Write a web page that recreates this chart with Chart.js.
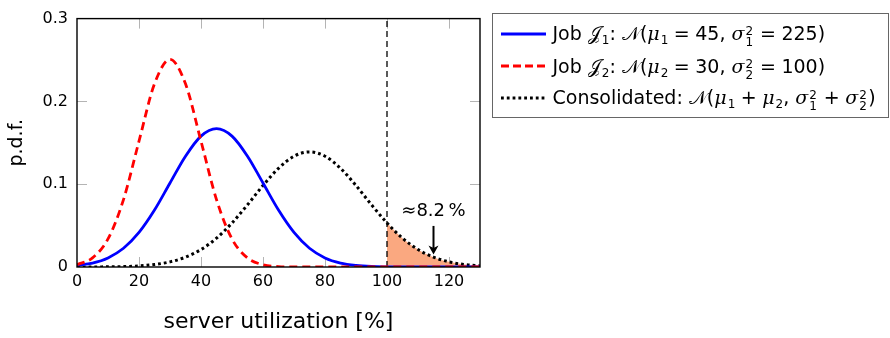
<!DOCTYPE html>
<html>
<head>
<meta charset="utf-8">
<script src="https://cdn.jsdelivr.net/npm/chart.js@4/dist/chart.umd.min.js"></script>
<style>
html,body{margin:0;padding:0;background:#fff;}
#wrap{position:relative;width:890px;height:338px;overflow:hidden;}
#c{position:absolute;left:0;top:0;}
#legend{position:absolute;left:492px;top:13px;width:397px;height:105px;box-sizing:border-box;border:1.5px solid #666;font-family:"DejaVu Sans",sans-serif;font-size:19px;color:#000;}
.row{position:absolute;left:7.5px;height:24px;display:flex;align-items:center;white-space:nowrap;}
.row svg{margin-right:7px;flex:none;}
.m{font-family:"DejaVu Serif",serif;font-style:italic;}
.cal{font-family:"DejaVu Serif","DejaVu Sans","Noto Sans",serif;}
.sb1{font-size:12px;position:relative;top:4px;margin-left:1px;}
.op{margin:0 5.5px;}
.ss{position:relative;display:inline-block;width:10px;height:0;}
.ss .sp,.ss .sb{position:absolute;left:1px;font-size:12px;line-height:12px;}
.ss .sp{top:-15px;}
.ss .sb{top:-4px;}
</style>
</head>
<body>
<div id="wrap">
<canvas id="c" width="890" height="338"></canvas>
<div id="legend">
  <div class="row" style="top:7.8px"><svg width="45" height="8"><line x1="0" y1="4" x2="45" y2="4" stroke="#0000ff" stroke-width="2.8"/></svg><span>Job <span class="cal">𝒥</span><span class="sb1">1</span>: <span class="cal">𝒩</span>(<span class="m">μ</span><span class="sb1">1</span><span class="op">=</span>45, <span class="m">σ</span><span class="ss"><span class="sp">2</span><span class="sb">1</span></span><span class="op">=</span>225)</span></div>
  <div class="row" style="top:40.2px"><svg width="45" height="8"><line x1="0" y1="4" x2="45" y2="4" stroke="#ff0000" stroke-width="2.8" stroke-dasharray="8 4"/></svg><span>Job <span class="cal">𝒥</span><span class="sb1">2</span>: <span class="cal">𝒩</span>(<span class="m">μ</span><span class="sb1">2</span><span class="op">=</span>30, <span class="m">σ</span><span class="ss"><span class="sp">2</span><span class="sb">2</span></span><span class="op">=</span>100)</span></div>
  <div class="row" style="top:71.8px"><svg width="45" height="8"><line x1="0" y1="4" x2="45" y2="4" stroke="#000" stroke-width="2.8" stroke-dasharray="2.8 3"/></svg><span>Consolidated: <span class="cal">𝒩</span>(<span class="m">μ</span><span class="sb1">1</span><span class="op">+</span><span class="m">μ</span><span class="sb1">2</span>, <span class="m">σ</span><span class="ss"><span class="sp">2</span><span class="sb">1</span></span><span class="op">+</span><span class="m">σ</span><span class="ss"><span class="sp">2</span><span class="sb">2</span></span>)</span></div>
</div>
</div>
<script>
// ---- data ----
const xs = [0,5,10,15,20,25,30,35,40,45,50,55,60,65,70,75,80,85,90,95,100,105,110,115,120,125,130];
const job1 = [0.0019,0.0048,0.0110,0.0226,0.0417,0.0687,0.1014,0.1338,0.1581,0.1671,0.1581,0.1338,0.1014,0.0687,0.0417,0.0226,0.0110,0.0048,0.0019,0.0006,0.0002,0.0001,0,0,0,0,0];
const job2 = [0.0028,0.0110,0.0339,0.0814,0.1520,0.2212,0.2507,0.2212,0.1520,0.0814,0.0339,0.0110,0.0028,0.0005,0.0001,0,0,0,0,0,0,0,0,0,0,0,0];
const consolidated = [0.0000,0.0001,0.0002,0.0005,0.0013,0.0030,0.0062,0.0119,0.0211,0.0348,0.0532,0.0751,0.0984,0.1192,0.1338,0.1390,0.1338,0.1192,0.0984,0.0751,0.0532,0.0348,0.0211,0.0119,0.0062,0.0030,0.0013];
const xTicks = [0,20,40,60,80,100,120];
const yTicks = [0,0.1,0.2,0.3];
const thresholdX = 100;
const tailLabel = '≈8.2\u2009%';
const labelX = 115, labelY = 0.0676;
const arrowFrom = 0.0496, arrowTo = 0.0150;

const pts = arr => xs.map((x,i)=>({x, y: arr[i]}));
const tail = pts(consolidated).filter(p => p.x >= thresholdX);

const FONT = '"DejaVu Sans", sans-serif';

const decor = {
  id: 'decor',
  beforeDatasetsDraw(chart){
    const {ctx, chartArea:a, scales:{x,y}} = chart;
    ctx.save();
    ctx.strokeStyle = '#b4b4b4';
    ctx.lineWidth = 1;
    ctx.beginPath();
    xTicks.forEach(v => {
      if (v <= x.min || v >= x.max) return;
      const px = Math.round(x.getPixelForValue(v)) + 0.5;
      ctx.moveTo(px, a.bottom); ctx.lineTo(px, a.bottom - 10);
      ctx.moveTo(px, a.top); ctx.lineTo(px, a.top + 10);
    });
    yTicks.forEach(v => {
      if (v <= y.min || v >= y.max) return;
      const py = Math.round(y.getPixelForValue(v)) + 0.5;
      ctx.moveTo(a.left, py); ctx.lineTo(a.left + 10, py);
      ctx.moveTo(a.right, py); ctx.lineTo(a.right - 10, py);
    });
    ctx.stroke();
    ctx.restore();
  },
  afterDatasetsDraw(chart){
    const {ctx, chartArea:a, scales:{x,y}} = chart;
    ctx.save();
    ctx.strokeStyle = '#000';
    ctx.lineWidth = 1.4;
    ctx.strokeRect(a.left, a.top, a.right - a.left, a.bottom - a.top);
    ctx.fillStyle = '#000';
    ctx.font = '18px ' + FONT;
    ctx.textAlign = 'center';
    ctx.textBaseline = 'middle';
    ctx.fillText(tailLabel, x.getPixelForValue(labelX), y.getPixelForValue(labelY));
    const ax = x.getPixelForValue(labelX);
    const y0 = y.getPixelForValue(arrowFrom), y1 = y.getPixelForValue(arrowTo);
    ctx.lineWidth = 2;
    ctx.beginPath(); ctx.moveTo(ax, y0); ctx.lineTo(ax, y1 - 6); ctx.stroke();
    ctx.beginPath();
    ctx.moveTo(ax, y1);
    ctx.lineTo(ax - 5, y1 - 9);
    ctx.lineTo(ax, y1 - 6.5);
    ctx.lineTo(ax + 5, y1 - 9);
    ctx.closePath(); ctx.fill();
    ctx.restore();
  }
};

new Chart(document.getElementById('c'), {
  type: 'line',
  data: {
    datasets: [
      { label: 'Job 2', data: pts(job2), borderColor: '#ff0000', borderWidth: 2.8, borderDash: [8,5], pointRadius: 0, cubicInterpolationMode: 'monotone', fill: false, order: 1 },
      { label: 'Job 1', data: pts(job1), borderColor: '#0000ff', borderWidth: 2.8, pointRadius: 0, cubicInterpolationMode: 'monotone', fill: false, order: 2 },
      { label: 'Consolidated', data: pts(consolidated), borderColor: '#000', borderWidth: 3, borderDash: [2.8,3], borderCapStyle: 'butt', pointRadius: 0, cubicInterpolationMode: 'monotone', fill: false, order: 3 },
      { label: 'threshold', data: [{x: thresholdX, y: yTicks[0]}, {x: thresholdX, y: yTicks[yTicks.length-1]}], borderColor: '#000', borderWidth: 1.3, borderDash: [6,4], pointRadius: 0, fill: false, order: 4 },
      { label: 'tail', data: tail, borderWidth: 0, borderColor: 'rgba(0,0,0,0)', backgroundColor: 'rgb(250,168,128)', pointRadius: 0, cubicInterpolationMode: 'monotone', fill: 'origin', order: 5 }
    ]
  },
  options: {
    responsive: false,
    animation: false,
    events: [],
    layout: { padding: { left: 0, top: 13, right: 410, bottom: 0 } },
    plugins: { legend: { display: false }, tooltip: { enabled: false } },
    scales: {
      x: {
        type: 'linear', min: 0, max: 130,
        afterBuildTicks: s => { s.ticks = xTicks.map(v => ({value: v})); },
        afterFit: s => { s.height = 71; },
        grid: { display: false, drawTicks: false },
        border: { display: false },
        ticks: { color: '#000', font: { family: FONT, size: 16 }, padding: 5, maxRotation: 0, autoSkip: false },
        title: { display: true, text: 'server utilization [%]', color: '#000', font: { family: FONT, size: 22 }, padding: { top: 0, bottom: 3 } }
      },
      y: {
        type: 'linear', min: 0, max: 0.3,
        afterBuildTicks: s => { s.ticks = yTicks.map(v => ({value: v})); },
        afterFit: s => { s.width = 77; },
        grid: { display: false, drawTicks: false },
        border: { display: false },
        ticks: { color: '#000', font: { family: FONT, size: 16 }, padding: 9, callback: v => String(v) },
        title: { display: true, text: 'p.d.f.', color: '#000', font: { family: FONT, size: 19 }, padding: { top: 6, bottom: 0 } }
      }
    }
  },
  plugins: [decor]
});
</script>
</body>
</html>
